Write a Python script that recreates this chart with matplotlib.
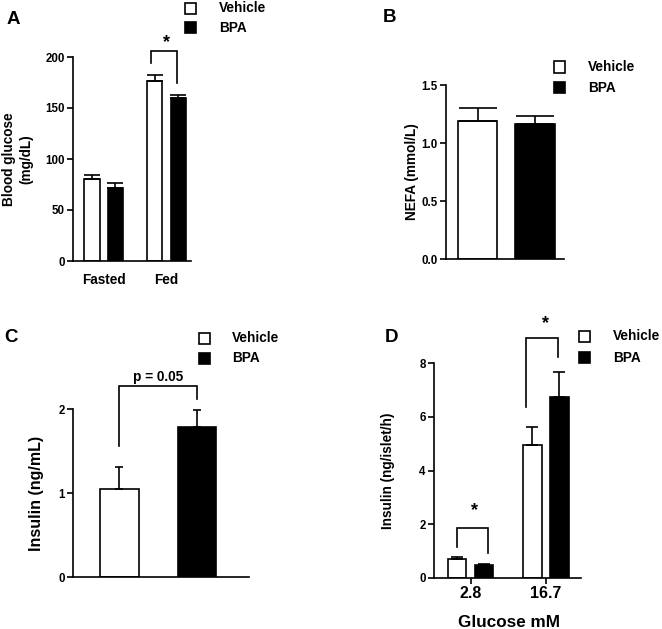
import matplotlib
matplotlib.use("Agg")
import matplotlib.pyplot as plt
from matplotlib.patches import Rectangle
import numpy as np

plt.rcParams['font.family'] = ['Liberation Sans', 'DejaVu Sans']
plt.rcParams['font.weight'] = 'bold'
plt.rcParams['axes.labelweight'] = 'bold'

W, H = 662, 629

# ---------------- data ----------------
groups = ["Vehicle", "BPA"]

# Panel A: blood glucose (mg/dL)
a_cats = ["Fasted", "Fed"]
a_vehicle = [80.5, 176.5]
a_vehicle_err = [3.5, 5.5]
a_bpa = [71.5, 159.5]
a_bpa_err = [4.5, 3.5]
a_yticks = [0, 50, 100, 150, 200]

# Panel B: NEFA (mmol/L)
b_vals = [1.19, 1.16]
b_err = [0.11, 0.07]
b_yticks = [0.0, 0.5, 1.0, 1.5]

# Panel C: Insulin (ng/mL)
c_vals = [1.05, 1.79]
c_err = [0.26, 0.20]
c_yticks = [0, 1, 2]

# Panel D: Insulin (ng/islet/h)
d_cats = ["2.8", "16.7"]
d_vehicle = [0.72, 4.95]
d_vehicle_err = [0.08, 0.68]
d_bpa = [0.48, 6.72]
d_bpa_err = [0.03, 0.96]
d_yticks = [0, 2, 4, 6, 8]

fig = plt.figure(figsize=(W / 100, H / 100), dpi=100)


def axes_px(x0, x1, ytop, ybot):
    return fig.add_axes([x0 / W, 1 - ybot / H, (x1 - x0) / W, (ybot - ytop) / H])


def style(ax, tick_fs=8.3):
    ax.spines['top'].set_visible(False)
    ax.spines['right'].set_visible(False)
    for s in ['left', 'bottom']:
        ax.spines[s].set_linewidth(1.2)
    ax.tick_params(axis='y', direction='out', length=4, width=1.2, labelsize=tick_fs, pad=2)
    for lab in ax.get_yticklabels():
        lab.set_fontweight('bold')


def legend_px(xsq, yrows, xtext, fs=9.8, sq=11):
    for i, (name, fc) in enumerate(zip(groups, ['white', 'black'])):
        yc = yrows[i]
        fig.add_artist(Rectangle(((xsq) / W, 1 - (yc + sq / 2) / H), sq / W, sq / H,
                                 transform=fig.transFigure, facecolor=fc,
                                 edgecolor='black', linewidth=1.2))
        fig.text(xtext / W, 1 - yc / H, name, ha='left', va='center',
                 fontsize=fs, fontweight='bold')


def letter(x, y, t):
    fig.text(x / W, 1 - y / H, t, ha='left', va='center', fontsize=13.5, fontweight='bold')


def bracket(ax, x1, x2, ytop, yl, yr, lw=1.2):
    ax.plot([x1, x1, x2, x2], [yl, ytop, ytop, yr], color='black', lw=lw,
            clip_on=False, solid_joinstyle='miter')


ebkw = dict(ecolor='black', elinewidth=1.2, capthick=1.2)

# ---------------- Panel A ----------------
axA = axes_px(73, 191, 57, 261)
xa = np.arange(len(a_cats))
off, bw = 0.187, 0.24
axA.bar(xa - off, a_vehicle, bw, color='white', edgecolor='black', linewidth=1.2,
        yerr=[[0, 0], a_vehicle_err], capsize=6, error_kw=ebkw)
axA.bar(xa + off, a_bpa, bw, color='black', edgecolor='black', linewidth=1.2,
        yerr=[[0, 0], a_bpa_err], capsize=6, error_kw=ebkw)
axA.set_ylim(0, 200)
axA.set_xlim(-0.49, 1.39)
axA.set_yticks(a_yticks)
axA.set_xticks(xa)
axA.set_xticklabels(a_cats, fontsize=9.8, fontweight='bold')
axA.tick_params(axis='x', length=0, pad=9)
style(axA)
axA.set_ylabel("Blood glucose\n(mg/dL)", fontsize=9.8, va='center', linespacing=1.3)
axA.yaxis.set_label_coords(-0.465, 0.5)
bracket(axA, 1 - off - 0.06, 1 + off - 0.02, 206, 194, 174.5)
axA.text(1, 214, "*", ha='center', va='center', fontsize=13, fontweight='bold')
legend_px(185, [8.5, 27.5], 219)
letter(7, 20, "A")

# ---------------- Panel B ----------------
axB = axes_px(446, 564, 85, 259)
xb = np.arange(2)
axB.bar(xb, b_vals, 0.68, color=['white', 'black'], edgecolor='black', linewidth=1.2,
        yerr=[[0, 0], b_err], capsize=14, error_kw=ebkw)
axB.set_ylim(0, 1.5)
axB.set_xlim(-0.548, 1.504)
axB.set_yticks(b_yticks)
axB.set_yticklabels([f"{v:.1f}" for v in b_yticks])
axB.set_xticks([])
style(axB)
axB.set_ylabel("NEFA (mmol/L)", fontsize=9.8, va='center')
axB.yaxis.set_label_coords(-0.29, 0.5)
legend_px(554, [67, 87.5], 588)
letter(383, 17, "B")

# ---------------- Panel C ----------------
axC = axes_px(73, 249, 409, 577)
xc = np.arange(2)
axC.bar(xc, c_vals, 0.50, color=['white', 'black'], edgecolor='black', linewidth=1.2,
        yerr=[[0, 0], c_err], capsize=3, error_kw=ebkw)
axC.set_ylim(0, 2)
axC.set_xlim(-0.6, 1.671)
axC.set_yticks(c_yticks)
axC.set_xticks([])
style(axC)
axC.set_ylabel("Insulin (ng/mL)", fontsize=11.5, va='center')
axC.yaxis.set_label_coords(-0.21, 0.5)
bracket(axC, 0, 1, 2.27, 1.56, 2.12)
axC.text(0.5, 2.385, "p = 0.05", ha='center', va='center', fontsize=9.8, fontweight='bold')
legend_px(199, [338, 358], 232)
letter(4, 338, "C")

# ---------------- Panel D ----------------
axD = axes_px(434, 581, 363, 578)
xd = np.arange(len(d_cats))
off, bw = 0.179, 0.246
axD.bar(xd - off, d_vehicle, bw, color='white', edgecolor='black', linewidth=1.2,
        yerr=[[0, 0], d_vehicle_err], capsize=4, error_kw=ebkw)
axD.bar(xd + off, d_bpa, bw, color='black', edgecolor='black', linewidth=1.2,
        yerr=[[0, 0], d_bpa_err], capsize=4, error_kw=ebkw)
axD.set_ylim(0, 8)
axD.set_xlim(-0.485, 1.468)
axD.set_yticks(d_yticks)
axD.set_xticks(xd)
axD.set_xticklabels(d_cats, fontsize=11.5, fontweight='bold')
axD.tick_params(axis='x', length=4, width=1.2, pad=2)
style(axD)
axD.set_ylabel("Insulin (ng/islet/h)", fontsize=9.8, va='center')
axD.yaxis.set_label_coords(-0.313, 0.5)
axD.set_xlabel("Glucose mM", fontsize=12.3, va='center')
axD.xaxis.set_label_coords(0.51, -0.205)
bracket(axD, -off, off + 0.06, 1.86, 1.15, 0.93)
axD.text(0.05, 2.5, "*", ha='center', va='center', fontsize=13, fontweight='bold')
bracket(axD, 1 - off - 0.09, 1 + off - 0.02, 8.92, 6.36, 8.21)
axD.text(1.0, 9.45, "*", ha='center', va='center', fontsize=13, fontweight='bold')
legend_px(579, [336.5, 357.5], 613)
letter(385, 338, "D")

fig.savefig("out.png", dpi=100)
